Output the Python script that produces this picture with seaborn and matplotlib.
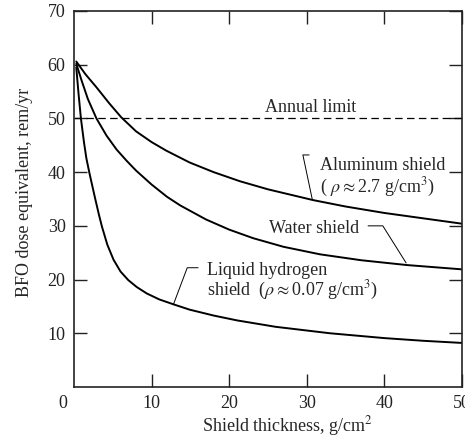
import matplotlib
matplotlib.use('Agg')
import matplotlib.pyplot as plt
import pandas as pd
import seaborn as sns

# Values
al_x = [0.3, 1.5, 2.9, 4.5, 6.1, 8.0, 10.0, 11.9, 14.9, 18.0, 21.4, 25.0, 30.8, 35.0, 40.0, 45.0, 50.0]
al_y = [60.6, 58.2, 55.8, 52.9, 50.2, 47.6, 45.6, 44.0, 41.8, 40.0, 38.3, 36.8, 34.8, 33.6, 32.4, 31.4, 30.4]

water_x = [0.3, 1.0, 1.8, 2.9, 4.2, 5.5, 6.8, 8.0, 10.0, 12.0, 13.7, 17.0, 20.0, 23.1, 27.0, 31.7, 37.0, 42.9, 50.0]
water_y = [60.2, 57.0, 53.6, 50.0, 46.8, 44.2, 42.1, 40.3, 37.7, 35.4, 33.8, 31.2, 29.3, 27.7, 26.1, 24.7, 23.6, 22.7, 21.9]

h2_x = [0.3, 0.6, 0.9, 1.3, 1.6, 2.0, 2.7, 3.2, 3.6, 4.3, 5.1, 6.0, 7.0, 8.1, 9.4, 11.0, 12.8, 14.9, 18.0, 21.0, 26.0, 33.0, 40.0, 45.0, 50.0]
h2_y = [59.5, 54.5, 50.0, 45.5, 42.6, 39.8, 35.3, 32.2, 29.9, 26.5, 23.7, 21.5, 19.9, 18.6, 17.4, 16.3, 15.4, 14.4, 13.3, 12.4, 11.2, 10.0, 9.1, 8.6, 8.2]

limit = 50
x_ticks = [10, 20, 30, 40, 50]
y_ticks = [10, 20, 30, 40, 50, 60, 70]

df = pd.concat([
    pd.DataFrame({'t': al_x, 'dose': al_y, 'shield': 'Aluminum'}),
    pd.DataFrame({'t': water_x, 'dose': water_y, 'shield': 'Water'}),
    pd.DataFrame({'t': h2_x, 'dose': h2_y, 'shield': 'Liquid hydrogen'}),
])

sns.set_style('ticks')
plt.rcParams['font.family'] = ['Liberation Serif', 'DejaVu Serif']
plt.rcParams['mathtext.fontset'] = 'stix'
plt.rcParams['font.size'] = 13

fig = plt.figure(figsize=(4.65, 4.4), dpi=100)
ax = fig.add_axes([0.159, 0.1205, 0.8345, 0.8545])

sns.lineplot(data=df, x='t', y='dose', units='shield', estimator=None,
             color='black', linewidth=1.4, ax=ax, legend=False)
ax.axhline(limit, color='black', linewidth=0.9, dashes=(6, 3.5))

ax.set_xlim(0, 50)
ax.set_ylim(0, 70)
ax.set_xticks(x_ticks)
ax.set_yticks(y_ticks)
ax.tick_params(direction='in', length=9.5, width=1, top=True, right=True,
               labelsize=13, colors='#222222', pad=6)
ax.tick_params(axis='y', labelright=False)
ax.tick_params(axis='x', labeltop=False)
for s in ax.spines.values():
    s.set_linewidth(1.2)
    s.set_color('#222222')
# shared origin label sits left of the corner
ax.text(-1.4, -0.0213, '0', transform=ax.get_xaxis_transform(),
        ha='center', va='top', fontsize=13, color='#222222')

ax.set_xlabel('Shield thickness, g/cm$^2$', fontsize=13)
ax.set_ylabel('BFO dose equivalent, rem/yr', fontsize=13)
ax.xaxis.set_label_coords(0.55, -0.073)
ax.yaxis.set_label_coords(-0.105, 0.517)

# Annotations
ax.text(30.5, 51.2, 'Annual limit', ha='center', va='baseline', fontsize=13)

ax.text(31.7, 40.4, 'Aluminum shield', ha='left', va='baseline', fontsize=13)
ax.text(31.7, 36.3, '( $\\rho \\approx$2.7 g/cm$^3$)', ha='left', va='baseline', fontsize=13)
ax.plot([30.3, 29.5, 30.7], [43.2, 43.2, 35.0], color='black', linewidth=0.7)

ax.text(25.1, 28.7, 'Water shield', ha='left', va='baseline', fontsize=13)
ax.plot([37.9, 39.8, 42.8], [30.0, 30.0, 23.1], color='black', linewidth=0.7)

ax.text(17.1, 20.9, 'Liquid hydrogen', ha='left', va='baseline', fontsize=13)
ax.text(17.1, 17.1, 'shield  ($\\rho\\approx$0.07 g/cm$^3$)', ha='left', va='baseline', fontsize=13)
ax.plot([16.0, 14.6, 12.8], [22.2, 22.2, 15.3], color='black', linewidth=0.7)

fig.savefig('out.png', dpi=100)
